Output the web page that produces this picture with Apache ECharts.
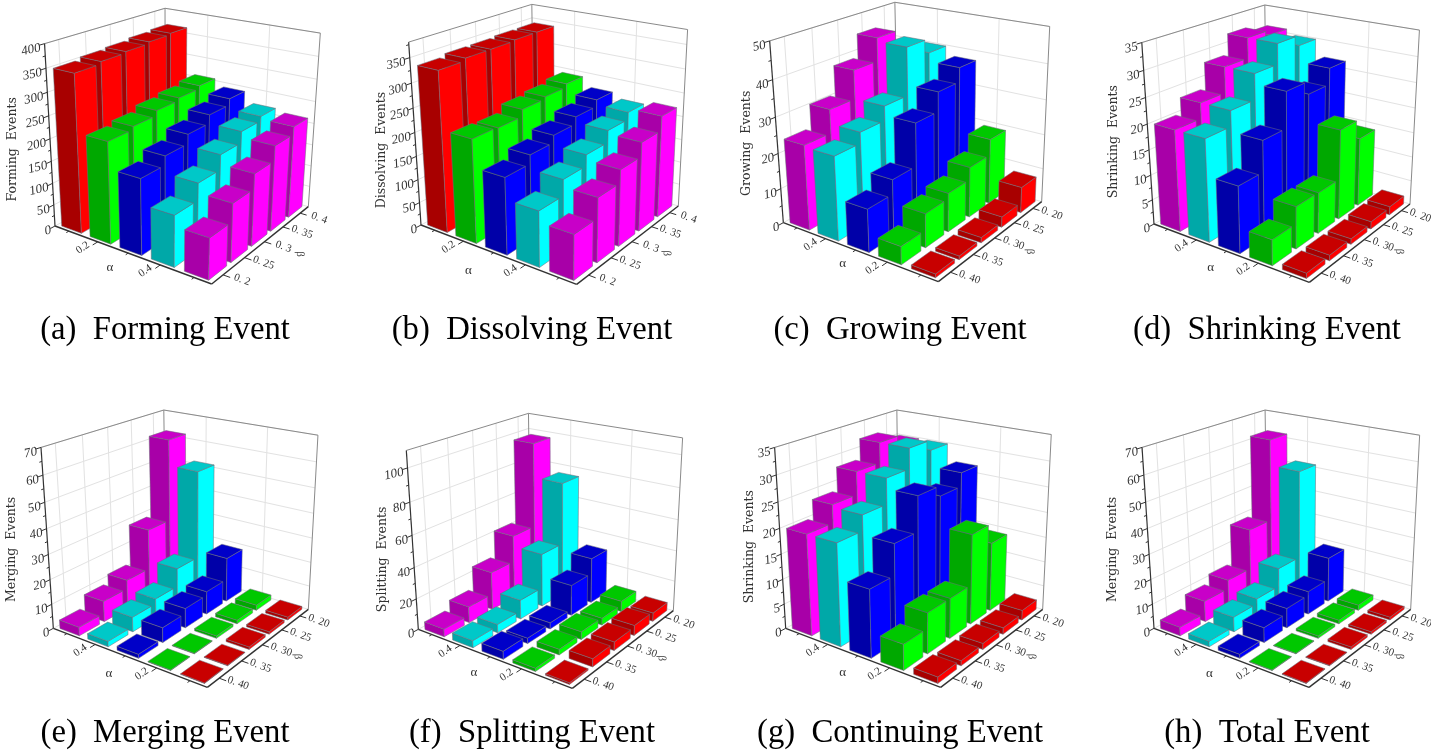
<!DOCTYPE html>
<html><head><meta charset="utf-8">
<style>html,body{margin:0;padding:0;background:#fff}#c{width:1431px;height:753px}</style>
<script src="https://cdn.jsdelivr.net/npm/echarts@6/dist/echarts.min.js"></script>
</head><body><div id="c"></div>
<script>
// ---- values: each row is one α (in drawn order, left to front), each column one β (front to back)
const forming = [
 [350,355,358,362,365],
 [226,233,244,250,257],
 [168,188,209,228,242],
 [113,150,183,208,218],
 [90,129,162,195,212]];
const dissolving = [
 [335,340,340,342,342],
 [217,215,230,235,242],
 [160,178,193,208,222],
 [115,148,171,196,211],
 [92,133,160,189,219]];
const growing = [
 [24,30.5,38.5,45,38],
 [23.5,26.5,30.5,44,40],
 [12,16,28,33.5,37.5],
 [5,9.5,11,14.5,19],
 [1,1,1.5,3,7.5]];
const shrinking = [
 [20,23,28,32,31],
 [20,23,28,32,30],
 [13,19,26,23.5,26.7],
 [5,8.3,8.2,18,14],
 [1,1.1,1.1,1.5,1.7]];
const merging = [
 [3.5,8.5,12,28.5,62],
 [2.2,6,8,15.5,51.5],
 [1.6,6,8,9.5,18.5],
 [0.2,0.2,1,1.5,2.2],
 [0.2,0.2,1,1,1.2]];
const splitting = [
 [5,10.5,25,42,97],
 [4.5,5.5,12.5,35,75],
 [5,3.5,4,20,30],
 [2,3.5,5,4.5,7],
 [1,5,5.5,6.5,5.5]];
const continuing = [
 [20,23.5,28,32,30],
 [20,23,28,32,30],
 [13.2,19.2,26,24,26.7],
 [5,8,8,18,14],
 [1.2,1,1.2,1.3,2]];
const total = merging;

const betaUp = ['0. 2','0. 25','0. 3','0. 35','0. 4'];
const betaDown = ['0. 40','0. 35','0. 30','0. 25','0. 20'];
const alphaUp = ['0.2','0.4'];
const alphaDown = ['0.4','0.2'];
const zTicks50 = [0,50,100,150,200,250,300,350,400];
const zTicks50b = [0,50,100,150,200,250,300,350];
const zTicks10 = [0,10,20,30,40,50];
const zTicks5 = [0,5,10,15,20,25,30,35];
const zTicks10m = [0,10,20,30,40,50,60,70];
const zTicks20 = [0,20,40,60,80,100];
const captions = ['(a)  Forming Event','(b)  Dissolving Event','(c)  Growing Event','(d)  Shrinking Event','(e)  Merging Event','(f)  Splitting Event','(g)  Continuing Event','(h)  Total Event'];
const zNames = ['Forming  Events','Dissolving  Events','Growing  Events','Shrinking  Events','Merging  Events','Splitting  Events','Shrinking  Events','Merging  Events'];

// colours by α: top, left, right
const RED=['#c80000','#a80000','#ff0000'], GRN=['#00c800','#00a800','#00ff00'], BLU=['#0000c8','#0000a8','#0000ff'], CYA=['#00c8c8','#00a8a8','#00ffff'], MAG=['#c800c8','#a800a8','#ff00ff'];
const upColors=[RED,GRN,BLU,CYA,MAG], downColors=[MAG,CYA,BLU,GRN,RED];

// ---- panel frames (anchor points in 1/3 px units inside each panel)
const panels = [
 {ox:0,oy:0,w:360,h:350,d:forming,zmax:400,zt:zTicks50,al:alphaUp,be:betaUp,col:upColors,L:[165,678],F:[635,852],R:[925,620],tL:[135,130],tB:[493,25],tR:[962,100],nm:[38,448],an:[330,803],bn:[900,762],cap:[165,330]},
 {ox:360,oy:0,w:360,h:350,d:dissolving,zmax:380,zt:zTicks50b,al:alphaUp,be:betaUp,col:upColors,L:[183,675],F:[650,853],R:[955,618],tL:[145,127],tB:[517,13],tR:[982,88],nm:[65,450],an:[325,812],bn:[920,760],cap:[172,330]},
 {ox:720,oy:0,w:360,h:350,d:growing,zmax:50,zt:zTicks10,al:alphaDown,be:betaDown,col:downColors,L:[190,668],F:[655,845],R:[965,605],tL:[150,122],tB:[523,7],tR:[990,80],nm:[80,430],an:[368,790],bn:[930,755],cap:[180,330]},
 {ox:1080,oy:0,w:351,h:350,d:shrinking,zmax:35,zt:zTicks5,al:alphaDown,be:betaDown,col:downColors,L:[222,672],F:[688,847],R:[990,612],tL:[185,128],tB:[555,15],tR:[1018,90],nm:[100,425],an:[392,802],bn:[958,755],cap:[187,330]},
 {ox:0,oy:400,w:360,h:353,d:merging,zmax:70,zt:zTicks10m,al:alphaDown,be:betaDown,col:downColors,L:[160,685],F:[622,862],R:[925,628],tL:[122,143],tB:[493,30],tR:[953,105],nm:[35,448],an:[327,822],bn:[893,770],cap:[165,333]},
 {ox:360,oy:400,w:360,h:353,d:splitting,zmax:110,zt:zTicks20,al:alphaDown,be:betaDown,col:downColors,L:[175,688],F:[637,865],R:[940,632],tL:[138,152],tB:[507,40],tR:[967,113],nm:[67,478],an:[342,817],bn:[905,775],cap:[172,333]},
 {ox:720,oy:400,w:360,h:353,d:continuing,zmax:35,zt:zTicks5,al:alphaDown,be:betaDown,col:downColors,L:[197,685],F:[662,862],R:[968,628],tL:[163,143],tB:[532,30],tR:[993,103],nm:[88,440],an:[368,817],bn:[935,770],cap:[180,333]},
 {ox:1080,oy:400,w:351,h:353,d:total,zmax:70,zt:zTicks10m,al:alphaDown,be:betaDown,col:downColors,L:[222,685],F:[687,862],R:[992,628],tL:[185,143],tB:[557,30],tR:[1018,105],nm:[97,448],an:[388,822],bn:[958,770],cap:[187,333]}
];
const BAR_FRAC_U = 0.7, BAR_FRAC_V = 0.8;
const TEXT = '#333';

function isect(p1,p2,p3,p4){
  const a1=p2[1]-p1[1],b1=p1[0]-p2[0],c1=a1*p1[0]+b1*p1[1];
  const a2=p4[1]-p3[1],b2=p3[0]-p4[0],c2=a2*p3[0]+b2*p3[1];
  const d=a1*b2-a2*b1;
  return [(c1*b2-c2*b1)/d,(a1*c2-a2*c1)/d];
}
function solve3(A,b){
  const M=A.map((r,i)=>r.concat(b[i]));
  for(let i=0;i<3;i++){
    let p=i;for(let k=i+1;k<3;k++)if(Math.abs(M[k][i])>Math.abs(M[p][i]))p=k;
    [M[i],M[p]]=[M[p],M[i]];
    for(let k=0;k<3;k++){if(k===i)continue;const f=M[k][i]/M[i][i];for(let j=i;j<4;j++)M[k][j]-=f*M[i][j];}
  }
  return [M[0][3]/M[0][0],M[1][3]/M[1][1],M[2][3]/M[2][2]];
}
// projective view: u along L->F, v along F->R, w up (all 0..1)
function makeProjection(p){
  const vp1=isect(p.tL,p.tB,p.F,p.R), vp2=isect(p.tR,p.tB,p.F,p.L);
  const B=isect(p.L,vp1,p.R,vp2);
  const P00=p.L,P10=p.F,P11=p.R,P01=B;
  const dx1=P10[0]-P11[0],dx2=P01[0]-P11[0],sx=P00[0]-P10[0]+P11[0]-P01[0];
  const dy1=P10[1]-P11[1],dy2=P01[1]-P11[1],sy=P00[1]-P10[1]+P11[1]-P01[1];
  const den=dx1*dy2-dx2*dy1;
  const g=(sx*dy2-dx2*sy)/den,h=(dx1*sy-sx*dy1)/den;
  const a=P10[0]-P00[0]+g*P10[0],b=P01[0]-P00[0]+h*P01[0],c=P00[0];
  const d=P10[1]-P00[1]+g*P10[1],e=P01[1]-P00[1]+h*P01[1],f=P00[1];
  const H=(u,v)=>[a*u+b*v+c,d*u+e*v+f,g*u+h*v+1];
  const rows=[],rhs=[];
  [[0,0,p.tL],[1,1,p.tR],[0,1,p.tB]].forEach(([u,v,t])=>{
    const q=H(u,v);
    rows.push([1,0,-t[0]]);rhs.push(t[0]*q[2]-q[0]);
    rows.push([0,1,-t[1]]);rhs.push(t[1]*q[2]-q[1]);
  });
  const N=[[0,0,0],[0,0,0],[0,0,0]],r=[0,0,0];
  rows.forEach((row,k)=>{for(let i=0;i<3;i++){r[i]+=row[i]*rhs[k];for(let j=0;j<3;j++)N[i][j]+=row[i]*row[j];}});
  const C=solve3(N,r);
  return (u,v,w)=>{const q=H(u,v);const W=q[2]+w*C[2];return [(q[0]+w*C[0])/W,(q[1]+w*C[1])/W];};
}
panels.forEach(p=>p.proj=makeProjection(p));

const lineEl=(a,b,color,width)=>({type:'line',shape:{x1:a[0],y1:a[1],x2:b[0],y2:b[1]},style:{stroke:color,lineWidth:width,fill:null}});
const textEl=(pos,text,rot,size,align,extra)=>({type:'text',x:pos[0],y:pos[1],rotation:rot,style:Object.assign({text,fill:TEXT,fontSize:size,fontFamily:'"Liberation Serif"',align:align||'center',verticalAlign:'middle'},extra||{})});

function frameRenderer(p){
  return function(params,api){
    const P=(u,v,w)=>api.coord(p.proj(u,v,w));
    const kids=[];
    const GRID='#e2e2e2',EDGE='#8a8a8a',AX='#333';
    // walls
    p.zt.forEach(t=>{ if(t===0) return; const w=t/p.zmax;
      kids.push(lineEl(P(0,0,w),P(0,1,w),GRID,1));kids.push(lineEl(P(0,1,w),P(1,1,w),GRID,1));});
    for(let i=0;i<5;i++){const v=(i+.5)/5;kids.push(lineEl(P(0,v,0),P(0,v,1),GRID,1));}
    [0.3,0.7].forEach(u=>kids.push(lineEl(P(u,1,0),P(u,1,1),GRID,1)));
    kids.push(lineEl(P(0,0,0),P(0,1,0),GRID,1));kids.push(lineEl(P(0,1,0),P(1,1,0),GRID,1));
    kids.push(lineEl(P(0,0,1),P(0,1,1),EDGE,1));kids.push(lineEl(P(0,1,1),P(1,1,1),EDGE,1));
    kids.push(lineEl(P(0,1,0),P(0,1,1),EDGE,1));kids.push(lineEl(P(1,1,0),P(1,1,1),EDGE,1));
    // axes
    kids.push(lineEl(P(0,0,0),P(0,0,1),AX,1.2));
    kids.push(lineEl(P(0,0,0),P(1,0,0),AX,1.4));
    kids.push(lineEl(P(1,0,0),P(1,1,0),AX,1.4));
    // z ticks and labels
    const step=p.zt[1]-p.zt[0];
    p.zt.forEach(t=>{const w=t/p.zmax;
      const a=P(0,0,w),b=P(0,-.035,w);kids.push(lineEl(a,b,AX,1));
      kids.push(textEl([a[0]-4,a[1]+4],String(t),0.22,13,'right',{fontStyle:'italic'}));
      const wm=(t+step/2)/p.zmax; if(wm<1){kids.push(lineEl(P(0,0,wm),P(0,-.018,wm),AX,1));}
    });
    // alpha ticks and labels
    for(let i=0;i<5;i++){const u=(i+.5)/5;const major=i===1||i===3;
      const a=P(u,0,0),b=P(u,major?-.04:-.02,0);kids.push(lineEl(a,b,AX,1));
      if(major){kids.push(textEl([a[0]-15,a[1]+6],p.al[i===1?0:1],0.6,11,'center'));}
    }
    // beta ticks and labels
    for(let i=0;i<5;i++){const v=(i+.5)/5;
      const a=P(1,v,0),b=P(1.04,v,0);kids.push(lineEl(a,b,AX,1));
      kids.push(textEl([a[0]+19,a[1]+5],p.be[i],-0.35,11,'center'));
    }
    // axis names
    kids.push(textEl(api.coord(p.nm),zNames[panels.indexOf(p)],Math.PI/2,12.5,'center',{fontFamily:'"DejaVu Serif"'}));
    kids.push(textEl(api.coord(p.an),'α',0,13,'center'));
    kids.push(textEl(api.coord(p.bn),'β',-1.57,11,'center'));
    return {type:'group',children:kids};
  };
}
function barRenderer(p){
  return function(params,api){
    const iu=api.value(0),iv=api.value(1),val=api.value(2);
    const w=val/p.zmax, mu=(1-BAR_FRAC_U)/2, mv=(1-BAR_FRAC_V)/2;
    const u0=(iu+mu)/5,u1=(iu+1-mu)/5,v0=(iv+mv)/5,v1=(iv+1-mv)/5;
    const P=(u,v,z)=>api.coord(p.proj(u,v,z));
    const c=p.col[iu];
    const st=f=>({fill:f,stroke:'rgba(110,110,120,0.75)',lineWidth:0.7,lineJoin:'round'});
    return {type:'group',children:[
      {type:'polygon',shape:{points:[P(u0,v0,0),P(u1,v0,0),P(u1,v0,w),P(u0,v0,w)]},style:st(c[1])},
      {type:'polygon',shape:{points:[P(u1,v0,0),P(u1,v1,0),P(u1,v1,w),P(u1,v0,w)]},style:st(c[2])},
      {type:'polygon',shape:{points:[P(u0,v0,w),P(u1,v0,w),P(u1,v1,w),P(u0,v1,w)]},style:st(c[0])}
    ]};
  };
}

const option={animation:false,backgroundColor:'#fff',grid:[],xAxis:[],yAxis:[],series:[],
  title:captions.map((t,i)=>({text:t,left:panels[i].ox+panels[i].cap[0],top:panels[i].oy+panels[i].cap[1]-16,textAlign:'center',padding:0,
    textStyle:{fontFamily:'"Liberation Serif"',fontWeight:'normal',fontSize:32.7,color:'#000'}}))};
panels.forEach((p,i)=>{
  option.grid.push({left:p.ox,top:p.oy,width:p.w,height:p.h,containLabel:false});
  option.xAxis.push({type:'value',gridIndex:i,min:0,max:p.w*3,show:false});
  option.yAxis.push({type:'value',gridIndex:i,min:0,max:p.h*3,inverse:true,show:false});
  option.series.push({type:'custom',xAxisIndex:i,yAxisIndex:i,coordinateSystem:'cartesian2d',silent:true,clip:false,z:1,renderItem:frameRenderer(p),data:[[0,0]]});
  const items=[];
  for(let u=0;u<5;u++)for(let v=4;v>=0;v--)items.push([u,v,p.d[u][v]]);
  option.series.push({type:'custom',xAxisIndex:i,yAxisIndex:i,coordinateSystem:'cartesian2d',silent:true,clip:false,z:2,renderItem:barRenderer(p),data:items,encode:{x:0,y:1}});
});
echarts.init(document.getElementById('c'),null,{renderer:'canvas'}).setOption(option);
</script></body></html>
